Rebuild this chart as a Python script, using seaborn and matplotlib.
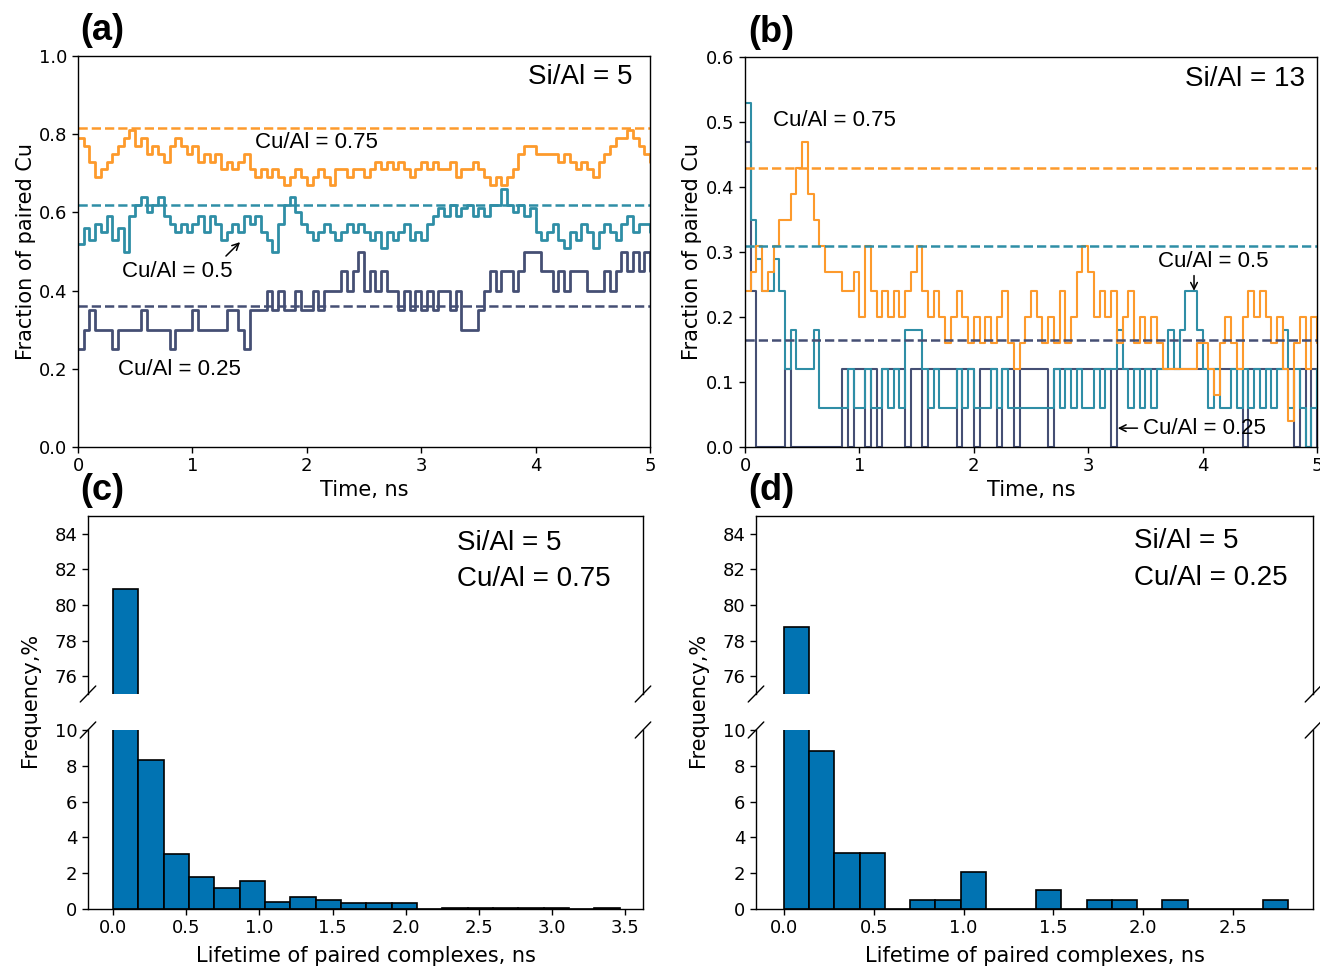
import numpy as np
import pandas as pd
import matplotlib
matplotlib.use("Agg")
import matplotlib.pyplot as plt
import seaborn as sns

# ---------------- data ----------------
time_ns = np.round(np.arange(0, 5.0001, 0.05), 2)

# panel (a): Si/Al = 5
a_cu075 = [0.79, 0.77, 0.73, 0.69, 0.71, 0.73, 0.75, 0.77, 0.79, 0.81,
           0.77, 0.79, 0.75, 0.77, 0.75, 0.73, 0.77, 0.79, 0.77, 0.75,
           0.77, 0.73, 0.75, 0.73, 0.75, 0.71, 0.73, 0.71, 0.73, 0.75,
           0.71, 0.69, 0.71, 0.69, 0.71, 0.69, 0.67, 0.69, 0.71, 0.69,
           0.67, 0.69, 0.71, 0.69, 0.67, 0.71, 0.71, 0.69, 0.71, 0.71,
           0.69, 0.71, 0.73, 0.71, 0.73, 0.71, 0.73, 0.71, 0.69, 0.71,
           0.73, 0.71, 0.73, 0.71, 0.71, 0.73, 0.69, 0.71, 0.71, 0.73,
           0.71, 0.69, 0.67, 0.69, 0.67, 0.69, 0.71, 0.75, 0.77, 0.77,
           0.75, 0.75, 0.75, 0.75, 0.73, 0.75, 0.73, 0.71, 0.73, 0.71,
           0.69, 0.73, 0.75, 0.77, 0.79, 0.79, 0.81, 0.79, 0.77, 0.75,
           0.73]
a_cu050 = [0.52, 0.56, 0.53, 0.57, 0.55, 0.59, 0.53, 0.56, 0.50, 0.59,
           0.62, 0.64, 0.60, 0.62, 0.64, 0.59, 0.57, 0.55, 0.57, 0.55,
           0.57, 0.59, 0.55, 0.59, 0.57, 0.53, 0.55, 0.57, 0.55, 0.59,
           0.57, 0.59, 0.55, 0.53, 0.50, 0.57, 0.62, 0.64, 0.60, 0.57,
           0.55, 0.53, 0.55, 0.57, 0.55, 0.53, 0.55, 0.57, 0.55, 0.57,
           0.55, 0.53, 0.55, 0.51, 0.55, 0.53, 0.55, 0.57, 0.53, 0.55,
           0.53, 0.57, 0.59, 0.61, 0.59, 0.62, 0.59, 0.61, 0.62, 0.59,
           0.61, 0.59, 0.62, 0.62, 0.66, 0.62, 0.60, 0.62, 0.59, 0.61,
           0.55, 0.53, 0.55, 0.57, 0.53, 0.51, 0.55, 0.53, 0.57, 0.55,
           0.51, 0.55, 0.57, 0.55, 0.53, 0.57, 0.59, 0.55, 0.57, 0.57,
           0.55]
a_cu025 = [0.25, 0.30, 0.35, 0.30, 0.30, 0.30, 0.25, 0.30, 0.30, 0.30,
           0.30, 0.35, 0.30, 0.30, 0.30, 0.30, 0.25, 0.30, 0.30, 0.30,
           0.35, 0.30, 0.30, 0.30, 0.30, 0.30, 0.35, 0.35, 0.30, 0.25,
           0.35, 0.35, 0.35, 0.40, 0.35, 0.40, 0.35, 0.35, 0.40, 0.35,
           0.35, 0.40, 0.35, 0.40, 0.40, 0.40, 0.45, 0.40, 0.45, 0.50,
           0.40, 0.45, 0.40, 0.45, 0.40, 0.40, 0.35, 0.40, 0.35, 0.40,
           0.35, 0.40, 0.35, 0.40, 0.40, 0.35, 0.40, 0.30, 0.30, 0.30,
           0.35, 0.40, 0.45, 0.40, 0.45, 0.45, 0.40, 0.45, 0.50, 0.50,
           0.50, 0.45, 0.45, 0.40, 0.45, 0.40, 0.45, 0.45, 0.45, 0.40,
           0.40, 0.40, 0.45, 0.40, 0.45, 0.50, 0.45, 0.50, 0.45, 0.50,
           0.45]
a_means = [0.815, 0.619, 0.36]   # Cu/Al = 0.75, 0.5, 0.25

# panel (b): Si/Al = 13
b_cu075 = [0.24, 0.27, 0.31, 0.24, 0.27, 0.31, 0.35, 0.35, 0.39, 0.43,
           0.47, 0.39, 0.35, 0.31, 0.27, 0.27, 0.27, 0.24, 0.24, 0.27,
           0.20, 0.31, 0.24, 0.20, 0.24, 0.20, 0.24, 0.20, 0.24, 0.27,
           0.31, 0.24, 0.20, 0.24, 0.20, 0.16, 0.20, 0.24, 0.20, 0.16,
           0.20, 0.16, 0.20, 0.16, 0.20, 0.24, 0.16, 0.12, 0.16, 0.20,
           0.24, 0.20, 0.16, 0.20, 0.16, 0.24, 0.16, 0.20, 0.27, 0.31,
           0.27, 0.20, 0.24, 0.20, 0.24, 0.16, 0.20, 0.24, 0.16, 0.20,
           0.16, 0.20, 0.16, 0.12, 0.12, 0.12, 0.12, 0.12, 0.12, 0.16,
           0.16, 0.12, 0.08, 0.16, 0.20, 0.16, 0.12, 0.20, 0.24, 0.20,
           0.24, 0.20, 0.16, 0.20, 0.12, 0.04, 0.16, 0.20, 0.12, 0.20,
           0.16]
b_cu050 = [0.53, 0.35, 0.29, 0.24, 0.24, 0.29, 0.24, 0.12, 0.18, 0.12,
           0.12, 0.12, 0.18, 0.06, 0.06, 0.06, 0.06, 0.06, 0.12, 0.06,
           0.06, 0.12, 0.06, 0.06, 0.12, 0.06, 0.12, 0.06, 0.18, 0.18,
           0.18, 0.12, 0.06, 0.12, 0.06, 0.06, 0.06, 0.12, 0.06, 0.12,
           0.06, 0.06, 0.06, 0.12, 0.06, 0.12, 0.06, 0.06, 0.06, 0.06,
           0.06, 0.06, 0.06, 0.06, 0.12, 0.06, 0.12, 0.06, 0.12, 0.06,
           0.06, 0.12, 0.06, 0.12, 0.12, 0.18, 0.12, 0.06, 0.12, 0.06,
           0.12, 0.06, 0.12, 0.12, 0.18, 0.12, 0.18, 0.24, 0.24, 0.18,
           0.12, 0.06, 0.12, 0.06, 0.06, 0.12, 0.06, 0.12, 0.06, 0.12,
           0.06, 0.12, 0.06, 0.12, 0.18, 0.06, 0.12, 0.06, 0.00, 0.06,
           0.12]
b_cu025 = [0.47, 0.24, 0.00, 0.00, 0.00, 0.00, 0.00, 0.12, 0.00, 0.00,
           0.00, 0.00, 0.00, 0.00, 0.00, 0.00, 0.00, 0.12, 0.00, 0.12,
           0.12, 0.00, 0.12, 0.00, 0.12, 0.12, 0.12, 0.12, 0.00, 0.12,
           0.12, 0.00, 0.12, 0.12, 0.12, 0.12, 0.12, 0.00, 0.12, 0.12,
           0.00, 0.12, 0.12, 0.12, 0.00, 0.12, 0.12, 0.00, 0.12, 0.12,
           0.12, 0.12, 0.12, 0.00, 0.12, 0.12, 0.12, 0.12, 0.12, 0.12,
           0.12, 0.12, 0.12, 0.12, 0.00, 0.12, 0.12, 0.12, 0.12, 0.12,
           0.12, 0.12, 0.12, 0.12, 0.12, 0.12, 0.12, 0.12, 0.12, 0.12,
           0.12, 0.12, 0.12, 0.12, 0.12, 0.12, 0.12, 0.00, 0.12, 0.12,
           0.12, 0.12, 0.12, 0.12, 0.12, 0.12, 0.00, 0.12, 0.00, 0.12,
           0.00]
b_means = [0.429, 0.309, 0.165]

# panel (c): lifetime histogram, Si/Al = 5, Cu/Al = 0.75 (20 bins from 0 to max)
c_freq = [80.9, 8.35, 3.1, 1.8, 1.2, 1.55, 0.4, 0.65, 0.5, 0.32,
          0.32, 0.32, 0.0, 0.08, 0.08, 0.08, 0.08, 0.08, 0.0, 0.08]
c_max_lifetime = 3.46
# panel (d): Si/Al = 5, Cu/Al = 0.25
d_freq = [78.76, 8.81, 3.11, 3.11, 0.0, 0.52, 0.52, 2.07, 0.0, 0.0,
          1.04, 0.0, 0.52, 0.52, 0.0, 0.52, 0.0, 0.0, 0.0, 0.52]
d_max_lifetime = 2.81

# ---------------- style ----------------
sns.set_theme(style="ticks")
plt.rcParams.update({
    "font.family": ["DejaVu Sans"],
    "axes.edgecolor": "black",
    "axes.linewidth": 1.0,
    "xtick.color": "black", "ytick.color": "black",
    "xtick.major.size": 4, "ytick.major.size": 4,
    "xtick.major.width": 1, "ytick.major.width": 1,
    "xtick.labelsize": 13, "ytick.labelsize": 13,
    "axes.labelsize": 15, "axes.labelcolor": "black",
    "text.color": "black",
})
ANN = "Liberation Sans"
ORANGE = "#fd9a2c"
TEAL = "#2f8ea6"
NAVY = "#454f74"
BLUE = "#0173B2"

W, H = 1320, 967
fig = plt.figure(figsize=(W / 100, H / 100), dpi=100)


def rect(l, t, r, b):
    return [l / W, 1 - b / H, (r - l) / W, (b - t) / H]


# ---------------- panel (a) ----------------
ax_a = fig.add_axes(rect(78, 56, 650, 447))
for vals, col in [(a_cu025, NAVY), (a_cu050, TEAL), (a_cu075, ORANGE)]:
    sns.lineplot(x=time_ns, y=vals, ax=ax_a, color=col, lw=2.0,
                 drawstyle="steps-post", errorbar=None, legend=False)
for m, col in zip(a_means, [ORANGE, TEAL, NAVY]):
    ax_a.axhline(m, color=col, ls="--", lw=1.8)
ax_a.set_xlim(0, 5)
ax_a.set_ylim(0, 1)
ax_a.set_xticks(range(6))
ax_a.set_yticks(np.arange(0, 1.01, 0.2))
ax_a.set_yticklabels([f"{v:.1f}" for v in np.arange(0, 1.01, 0.2)])
ax_a.set_xlabel("Time, ns", labelpad=3)
ax_a.set_ylabel("Fraction of paired Cu", labelpad=2)
ax_a.text(0.97, 0.946, "Si/Al = 5", transform=ax_a.transAxes, ha="right",
          va="center", fontsize=20, family=ANN)
ax_a.text(1.547, 0.7775, "Cu/Al = 0.75", ha="left", va="center", fontsize=16, family=ANN)
ax_a.text(0.385, 0.4476, "Cu/Al = 0.5", ha="left", va="center", fontsize=16, family=ANN)
ax_a.text(0.35, 0.197, "Cu/Al = 0.25", ha="left", va="center", fontsize=16, family=ANN)
ax_a.annotate("", xy=(1.434, 0.529), xytext=(1.276, 0.4834),
              arrowprops=dict(arrowstyle="->", color="black", lw=1.1))

# ---------------- panel (b) ----------------
ax_b = fig.add_axes(rect(745, 57, 1317, 447))
for vals, col in [(b_cu025, NAVY), (b_cu050, TEAL), (b_cu075, ORANGE)]:
    sns.lineplot(x=time_ns, y=vals, ax=ax_b, color=col, lw=1.5,
                 drawstyle="steps-post", errorbar=None, legend=False)
for m, col in zip(b_means, [ORANGE, TEAL, NAVY]):
    ax_b.axhline(m, color=col, ls="--", lw=1.8)
ax_b.set_xlim(0, 5)
ax_b.set_ylim(0, 0.6)
ax_b.set_xticks(range(6))
ax_b.set_yticks(np.arange(0, 0.61, 0.1))
ax_b.set_yticklabels([f"{v:.1f}" for v in np.arange(0, 0.61, 0.1)])
ax_b.set_xlabel("Time, ns", labelpad=3)
ax_b.set_ylabel("Fraction of paired Cu", labelpad=3)
ax_b.text(0.979, 0.944, "Si/Al = 13", transform=ax_b.transAxes, ha="right",
          va="center", fontsize=20, family=ANN)
ax_b.text(0.245, 0.503, "Cu/Al = 0.75", ha="left", va="center", fontsize=16, family=ANN)
ax_b.text(3.61, 0.286, "Cu/Al = 0.5", ha="left", va="center", fontsize=16, family=ANN)
ax_b.annotate("", xy=(3.925, 0.236), xytext=(3.925, 0.268),
              arrowprops=dict(arrowstyle="->", color="black", lw=1.1))
ax_b.text(3.479, 0.029, "Cu/Al = 0.25", ha="left", va="center", fontsize=16, family=ANN)
ax_b.annotate("", xy=(3.234, 0.029), xytext=(3.455, 0.029),
              arrowprops=dict(arrowstyle="->", color="black", lw=1.1))


# ---------------- histograms (c), (d) ----------------
def broken_hist(l, r, freq, max_life, xlim, xticks, labels, txt_xy):
    ax_top = fig.add_axes(rect(l, 516, r, 694))
    ax_bot = fig.add_axes(rect(l, 730, r, 909))
    edges = np.linspace(0, max_life, len(freq) + 1)
    df = pd.DataFrame({"lifetime": (edges[:-1] + edges[1:]) / 2,
                       "freq": freq})
    for ax in (ax_top, ax_bot):
        sns.histplot(data=df, x="lifetime", weights="freq", bins=list(edges),
                     ax=ax, color=BLUE, edgecolor="black", linewidth=1.2,
                     alpha=1.0)
        ax.set_xlim(*xlim)
        ax.set_ylabel("")
    ax_top.set_ylim(75, 85)
    ax_bot.set_ylim(0, 10)
    ax_top.set_yticks([76, 78, 80, 82, 84])
    ax_bot.set_yticks([0, 2, 4, 6, 8, 10])
    ax_top.spines["bottom"].set_visible(False)
    ax_top.tick_params(axis="x", which="both", bottom=False, labelbottom=False)
    ax_top.set_xlabel("")
    ax_bot.spines["top"].set_visible(False)
    ax_bot.set_xticks(xticks)
    ax_bot.set_xticklabels([f"{v:.1f}" for v in xticks])
    ax_bot.set_xlabel("Lifetime of paired complexes, ns", labelpad=6)
    dx, dy = 0.014, 0.045
    kw = dict(color="black", clip_on=False, lw=1.0)
    ax_top.plot((-dx, dx), (-dy, dy), transform=ax_top.transAxes, **kw)
    ax_top.plot((1 - dx, 1 + dx), (-dy, dy), transform=ax_top.transAxes, **kw)
    ax_bot.plot((-dx, dx), (1 - dy, 1 + dy), transform=ax_bot.transAxes, **kw)
    ax_bot.plot((1 - dx, 1 + dx), (1 - dy, 1 + dy), transform=ax_bot.transAxes, **kw)
    ax_top.text(txt_xy[0], txt_xy[1], labels[0], transform=ax_top.transAxes,
                ha="left", va="center", fontsize=20, family=ANN)
    ax_top.text(txt_xy[0], txt_xy[2], labels[1], transform=ax_top.transAxes,
                ha="left", va="center", fontsize=20, family=ANN)
    return ax_top, ax_bot


broken_hist(88, 643, c_freq, c_max_lifetime, (-0.17, 3.62),
            [0.0, 0.5, 1.0, 1.5, 2.0, 2.5, 3.0, 3.5],
            ["Si/Al = 5", "Cu/Al = 0.75"], (0.665, 0.848, 0.646))
broken_hist(756, 1313, d_freq, d_max_lifetime, (-0.156, 2.947),
            [0.0, 0.5, 1.0, 1.5, 2.0, 2.5],
            ["Si/Al = 5", "Cu/Al = 0.25"], (0.679, 0.857, 0.654))

fig.text(30 / W, 1 - 700 / H, "Frequency,%", rotation=90, ha="center",
         va="center", fontsize=15)
fig.text(698 / W, 1 - 700 / H, "Frequency,%", rotation=90, ha="center",
         va="center", fontsize=15)

# panel labels
for lbl, x, y in [("(a)", 80, 30), ("(b)", 748, 32), ("(c)", 80, 490), ("(d)", 748, 490)]:
    fig.text(x / W, 1 - y / H, lbl, ha="left", va="center", fontsize=26,
             fontweight="bold", family=ANN)

fig.savefig("out.png", dpi=100)
